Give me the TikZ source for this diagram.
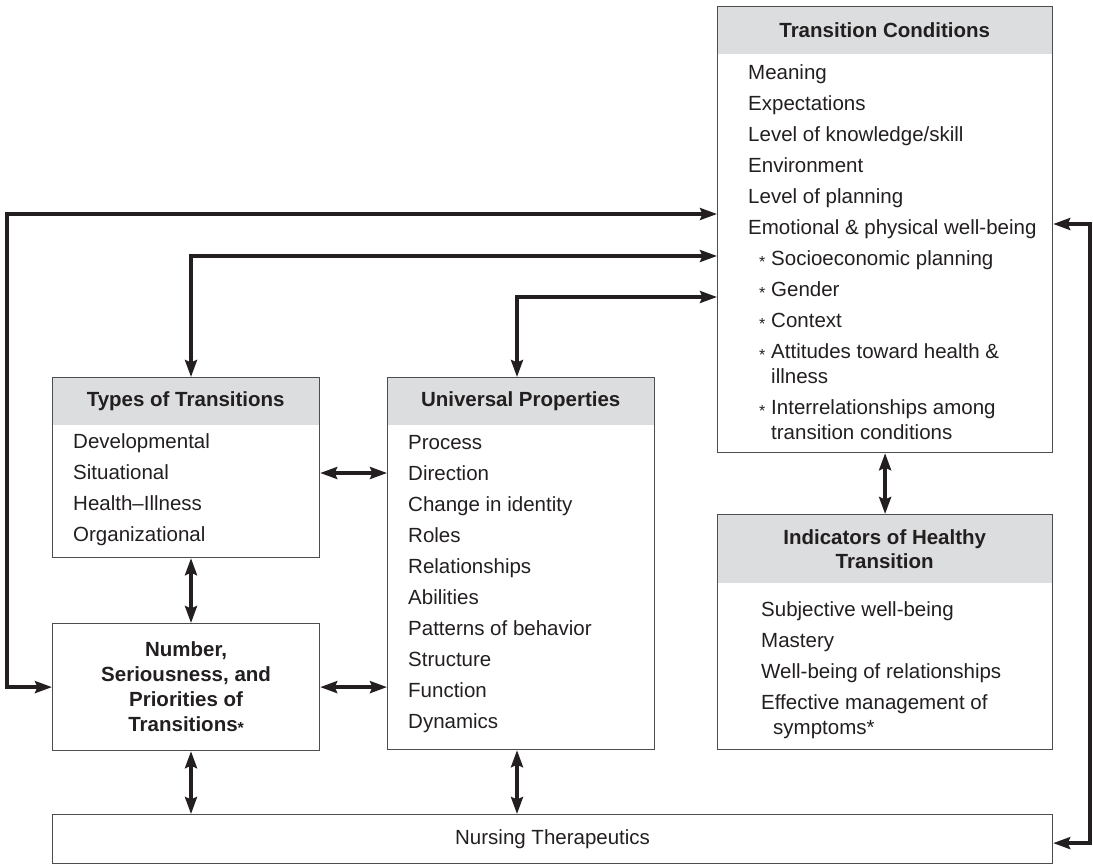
\documentclass[tikz,border=0pt]{standalone}
\usepackage{fontspec}
\setmainfont{Liberation Sans}
\usepackage{tikz}
\usetikzlibrary{arrows.meta, positioning, calc}
\definecolor{ink}{HTML}{231F20}
\definecolor{headgray}{HTML}{DCDDDE}
\definecolor{frame}{HTML}{4D4D4F}
\tikzstyle{box} = [rectangle, draw=frame, line width=1.2pt, anchor=north west, inner sep=0pt, text=ink]
\tikzstyle{head} = [rectangle, fill=headgray, anchor=north west, inner sep=0pt, align=center, text=ink, font=\fontsize{20.5}{24}\selectfont\bfseries]
\tikzstyle{items} = [anchor=base west, inner sep=0pt, align=left, text=ink, font=\fontsize{20.5}{25}\selectfont]
\tikzstyle{arrow} = [line width=3.4pt, draw=ink, <->]
\tikzset{>={Stealth[length=17pt,width=12pt,inset=2.5pt]}}
\newcommand{\nx}{\\[6pt]}
\newcommand{\lowstar}{\raisebox{-2pt}{\fontsize{16}{16}\selectfont*}}
\newcommand{\staritem}{\hspace*{11pt}\makebox[12pt][l]{\lowstar}}
\newcommand{\wrapitem}{\hspace*{23pt}}

\begin{document}
\begin{tikzpicture}[x=1pt, y=-1pt]
        \useasboundingbox (0,0) rectangle (1093,865);

        % Transition conditions (list anchored on its last baseline)
        \node (tchead) [head, minimum width=335pt, minimum height=48pt] at (717,6) {Transition Conditions};
        \node (tc) [box, minimum width=335pt, minimum height=446pt] at (717,6) {};
        \node (tclist) [items] at (748,439) {Meaning\nx Expectations\nx Level of knowledge/skill\nx Environment\nx
          Level of planning\nx Emotional \& physical well-being\nx \staritem Socioeconomic planning\nx
          \staritem Gender\nx \staritem Context\nx \staritem Attitudes toward health \&\\ \wrapitem illness\nx
          \staritem Interrelationships among\\ \wrapitem transition conditions};

        % Types of transitions
        \node (typeshead) [head, minimum width=267pt, minimum height=48pt] at (52,377) {Types of Transitions};
        \node (types) [box, minimum width=267pt, minimum height=180pt] at (52,377) {};
        \node (typeslist) [items] at (73,541) {Developmental\nx Situational\nx Health--Illness\nx Organizational};

        % Number, seriousness
        \node (number) [box, minimum width=267pt, minimum height=127pt, align=center,
          font=\fontsize{20.5}{25}\selectfont\bfseries] at (52,623) {Number,\\Seriousness, and\\Priorities of\\Transitions\lowstar};

        % Universal properties
        \node (univhead) [head, minimum width=267pt, minimum height=48pt] at (387,377) {Universal Properties};
        \node (univ) [box, minimum width=267pt, minimum height=372pt] at (387,377) {};
        \node (univlist) [items] at (408,728) {Process\nx Direction\nx Change in identity\nx Roles\nx Relationships\nx
          Abilities\nx Patterns of behavior\nx Structure\nx Function\nx Dynamics};

        % Indicators
        \node (indhead) [head, minimum width=335pt, minimum height=69pt] at (717,514) {Indicators of Healthy\\Transition};
        \node (ind) [box, minimum width=335pt, minimum height=235pt] at (717,514) {};
        \node (indlist) [items] at (761,734) {Subjective well-being\nx Mastery\nx Well-being of relationships\nx
          Effective management of\\ \hspace*{12pt}symptoms*};

        % Nursing therapeutics
        \node (nursing) [box, minimum width=1000pt, minimum height=49pt, font=\fontsize{20.5}{24}\selectfont] at (52,814) {Nursing Therapeutics};

        % Lanes
        \coordinate (outerleft) at (7,0);
        \coordinate (outerright) at (1090,0);
        \coordinate (leftlane) at (191,0);
        \coordinate (midlane) at (517,0);

        % Arrows
        \draw [arrow] (number.west) -- (outerleft |- number.west) |- (tc.west |- 0,214);
        \draw [arrow] (types.north -| leftlane) |- (tc.west |- 0,256);
        \draw [arrow] (univ.north -| midlane) |- (tc.west |- 0,297);
        \draw [arrow] (tc.east |- 0,224) -- (outerright |- 0,224) |- ([yshift=-4pt]nursing.east);
        \draw [arrow] (types.east |- 0,473) -- (univ.west |- 0,473);
        \draw [arrow] (number.east) -- (univ.west |- number.east);
        \draw [arrow] (types.south -| leftlane) -- (number.north -| leftlane);
        \draw [arrow] (number.south -| leftlane) -- (nursing.north -| leftlane);
        \draw [arrow] (univ.south -| midlane) -- (nursing.north -| midlane);
        \draw [arrow] (tc.south) -- (ind.north);
      \end{tikzpicture}
\end{document}
